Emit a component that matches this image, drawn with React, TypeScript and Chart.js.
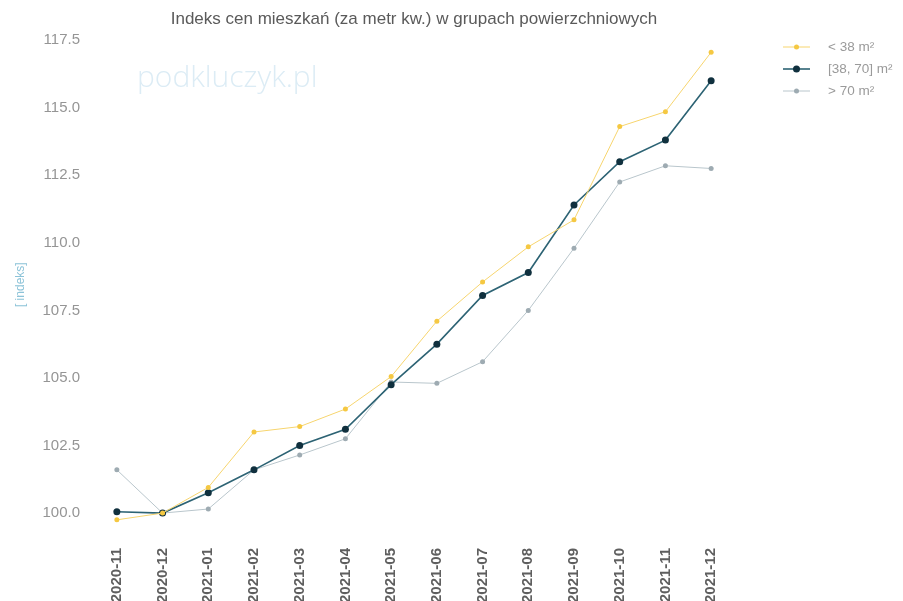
import React, { useEffect, useRef } from "react";
import { Chart, registerables } from "chart.js";

Chart.register(...registerables);

const months = [
  "2020-11", "2020-12", "2021-01", "2021-02", "2021-03", "2021-04", "2021-05",
  "2021-06", "2021-07", "2021-08", "2021-09", "2021-10", "2021-11", "2021-12",
];
const small = [99.75, 100.0, 100.95, 103.0, 103.2, 103.85, 105.05, 107.1, 108.55, 109.85, 110.85, 114.3, 114.85, 117.05];
const medium = [100.05, 100.0, 100.75, 101.6, 102.5, 103.1, 104.75, 106.25, 108.05, 108.9, 111.4, 113.0, 113.8, 116.0];
const large = [101.6, 100.0, 100.15, 101.6, 102.15, 102.75, 104.85, 104.8, 105.6, 107.5, 109.8, 112.25, 112.85, 112.75];
const seriesLabels = ["< 38 m²", "[38, 70] m²", "> 70 m²"];
const yTicks = [100, 102.5, 105, 107.5, 110, 112.5, 115, 117.5];

const FONT = "'Liberation Sans', Arial, sans-serif";

const legendPlugin = {
  id: "customLegend",
  afterDraw(chart: any) {
    const ctx = chart.ctx;
    chart.data.datasets.forEach((ds: any, i: number) => {
      const y = 47 + i * 22;
      ctx.save();
      ctx.strokeStyle = ds.borderColor;
      ctx.lineWidth = ds.borderWidth;
      ctx.beginPath();
      ctx.moveTo(783, y);
      ctx.lineTo(810, y);
      ctx.stroke();
      ctx.fillStyle = ds.pointBackgroundColor;
      ctx.beginPath();
      ctx.arc(796.5, y, ds.pointRadius, 0, Math.PI * 2);
      ctx.fill();
      ctx.fillStyle = "#9a9a9a";
      ctx.font = `13.5px ${FONT}`;
      ctx.textAlign = "left";
      ctx.textBaseline = "middle";
      ctx.fillText(ds.label, 828, y);
      ctx.restore();
    });
  },
};

const watermarkPlugin = {
  id: "watermark",
  beforeDatasetsDraw(chart: any) {
    const ctx = chart.ctx;
    ctx.save();
    ctx.fillStyle = "#dcecf5";
    ctx.font = `300 30px 'Open Sans', ${FONT}`;
    ctx.textAlign = "left";
    ctx.textBaseline = "middle";
    ctx.fillText("podkluczyk.pl", 137, 78);
    ctx.restore();
  },
};

export default function App() {
  const ref = useRef<HTMLCanvasElement | null>(null);
  useEffect(() => {
    if (!ref.current) return;
    const chart = new Chart(ref.current, {
      type: "line",
      data: {
        labels: months,
        datasets: [
          {
            label: seriesLabels[0],
            data: small,
            borderColor: "#f7d56e",
            backgroundColor: "#f5c842",
            pointBackgroundColor: "#f5c842",
            pointBorderWidth: 0,
            borderWidth: 1,
            pointRadius: 2.5,
          },
          {
            label: seriesLabels[1],
            data: medium,
            borderColor: "#2d6374",
            backgroundColor: "#10303e",
            pointBackgroundColor: "#10303e",
            pointBorderWidth: 0,
            borderWidth: 1.6,
            pointRadius: 3.5,
          },
          {
            label: seriesLabels[2],
            data: large,
            borderColor: "#b9c6cc",
            backgroundColor: "#9eabb2",
            pointBackgroundColor: "#9eabb2",
            pointBorderWidth: 0,
            borderWidth: 1,
            pointRadius: 2.5,
          },
        ],
      },
      options: {
        responsive: false,
        animation: false,
        layout: { padding: { left: 0, right: 169, top: 0, bottom: 0 } },
        plugins: {
          legend: { display: false },
          tooltip: { enabled: false },
          title: {
            display: true,
            fullSize: false,
            text: "Indeks cen mieszkań (za metr kw.) w grupach powierzchniowych",
            color: "#5a5a5a",
            font: { family: FONT, size: 17, weight: "normal" },
            padding: { top: 9, bottom: 8 },
          },
        },
        scales: {
          x: {
            offset: true,
            grid: { display: false },
            border: { display: false },
            ticks: {
              autoSkip: false,
              maxRotation: 90,
              minRotation: 90,
              padding: 8,
              color: "#5f5f5f",
              font: { family: FONT, size: 15, weight: "bold" },
            },
            afterFit(scale: any) {
              scale.height = 69;
            },
          },
          y: {
            min: 99.3,
            max: 117.6,
            grid: { display: false },
            border: { display: false },
            title: {
              display: true,
              text: "[ indeks]",
              color: "#8cc3d8",
              font: { family: FONT, size: 12 },
              padding: { top: 13, bottom: 0 },
            },
            ticks: {
              padding: 6,
              color: "#959595",
              font: { family: FONT, size: 15 },
              callback: (v: any) => Number(v).toFixed(1),
            },
            afterBuildTicks(scale: any) {
              scale.ticks = yTicks.map((v) => ({ value: v }));
            },
            afterFit(scale: any) {
              scale.width = 94;
            },
          },
        },
      },
      plugins: [watermarkPlugin, legendPlugin],
    });
    return () => chart.destroy();
  }, []);
  return (
    <div style={{ position: "fixed", left: 0, top: 0, width: 903, height: 601, background: "#fff" }}>
      <canvas ref={ref} width={903} height={601} style={{ display: "block" }} />
    </div>
  );
}
